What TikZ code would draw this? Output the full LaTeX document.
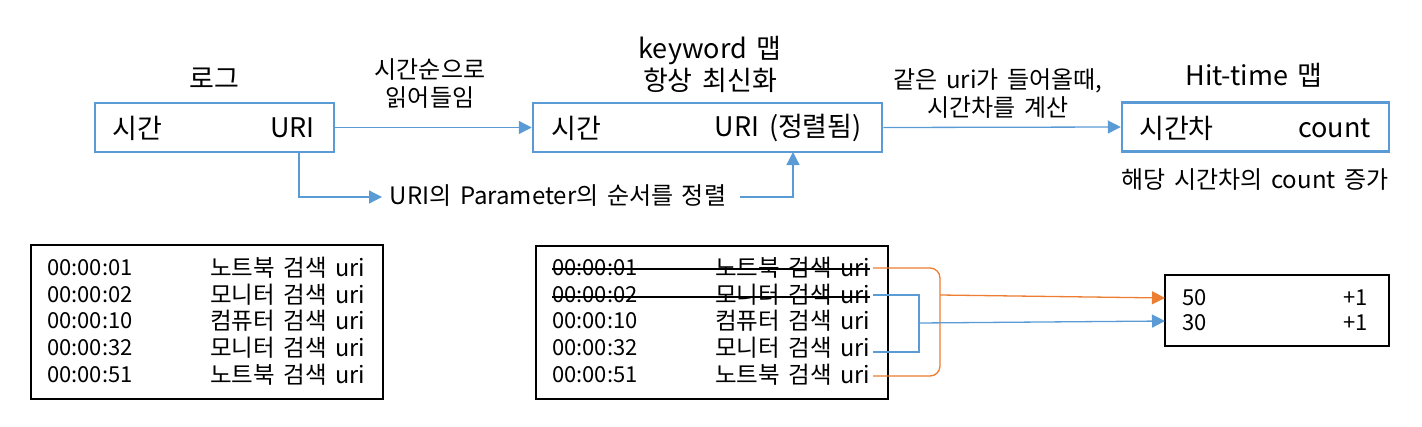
\documentclass[tikz,border=0pt]{standalone}
\usepackage{fontspec}
\setmainfont{Noto Sans CJK KR}[WordSpace=1.6]
\usetikzlibrary{arrows.meta,calc}
\definecolor{bl}{RGB}{91,155,213}
\definecolor{orn}{RGB}{237,125,49}
\tikzset{
  bluebox/.style={draw=bl,line width=2.5pt,inner sep=0pt},
  blackbox/.style={draw=black,line width=2.5pt,inner sep=0pt},
  big/.style={font=\fontsize{27}{32}\selectfont,inner sep=0pt,align=center},
  mid/.style={font=\fontsize{24}{28}\selectfont,inner sep=0pt,align=center},
  tab/.style={font=\fontsize{22}{26}\selectfont,inner sep=0pt},
  tabk/.style={font=\fontsize{23.5}{26}\selectfont,inner sep=0pt},
  bconn/.style={draw=bl,line width=1.3pt},
  oconn/.style={draw=orn,line width=1.3pt},
  tip/.style={-{Triangle[length=13pt,width=13pt]}},
  strike/.style={draw=black,line width=1.3pt}
}
\begin{document}
\begin{tikzpicture}[x=1pt,y=-1pt]
\useasboundingbox (0,0) rectangle (1422,426);
% top boxes
\node[bluebox,minimum width=239pt,minimum height=49pt] (box1) at (214.5,127.5) {};
\node[bluebox,minimum width=349pt,minimum height=49pt] (box2) at (707.5,127.5) {};
\node[bluebox,minimum width=267pt,minimum height=49pt] (box3) at (1255.5,127) {};
\node[big,anchor=west] (b1l) at (112,128) {시간};
\node[big,anchor=east] (b1r) at (315,128) {URI};
\node[big,anchor=west] (b2l) at (551,128) {시간};
\node[big,anchor=east] (b2r) at (862,128) {URI (정렬됨)};
\node[big,anchor=west] (b3l) at (1139,128) {시간차};
\node[big,anchor=east] (b3r) at (1371,128) {count};
% labels
\node[big] (lab1) at (214,78) {로그};
\node[big] (lab2) at (710,64) {keyword 맵\\항상 최신화};
\node[big] (lab3) at (1254,75) {Hit-time 맵};
\node[mid] (lab4) at (430,84) {시간순으로\\읽어들임};
\node[mid] (lab5) at (998,94) {같은 uri가 들어올때,\\시간차를 계산};
\node[mid] (lab6) at (1255,180) {해당 시간차의 count 증가};
\node[mid] (lab7) at (558,196) {URI의 Parameter의 순서를 정렬};
% top connectors
\draw[bconn,tip] (box1.east) -- (box2.west);
\draw[bconn,tip] (box2.east) -- (box3.west);
\coordinate (d1) at (299,152);
\coordinate (p1) at (382,197);
\coordinate (p2) at (740,197);
\coordinate (u1) at (793,152);
\draw[bconn,tip] (d1) |- (p1);
\draw[bconn,tip] (p2) -| (u1);
% bottom left table
\node[blackbox,minimum width=352pt,minimum height=154pt] (tl) at (207,322) {};
\node[tab,anchor=west] (l1t) at (47,268) {00:00:01};
\node[tab,anchor=west] (l2t) at (47,295) {00:00:02};
\node[tab,anchor=west] (l3t) at (47,321) {00:00:10};
\node[tab,anchor=west] (l4t) at (47,348) {00:00:32};
\node[tab,anchor=west] (l5t) at (47,375) {00:00:51};
\node[tabk,anchor=west] (l1k) at (210,268) {노트북 검색 uri};
\node[tabk,anchor=west] (l2k) at (210,295) {모니터 검색 uri};
\node[tabk,anchor=west] (l3k) at (210,321) {컴퓨터 검색 uri};
\node[tabk,anchor=west] (l4k) at (210,348) {모니터 검색 uri};
\node[tabk,anchor=west] (l5k) at (210,375) {노트북 검색 uri};
% bottom middle table
\node[blackbox,minimum width=352pt,minimum height=153pt] (tm) at (712,322.5) {};
\node[tab,anchor=west] (m1t) at (552,268) {00:00:01};
\node[tab,anchor=west] (m2t) at (552,295) {00:00:02};
\node[tab,anchor=west] (m3t) at (552,321) {00:00:10};
\node[tab,anchor=west] (m4t) at (552,348) {00:00:32};
\node[tab,anchor=west] (m5t) at (552,375) {00:00:51};
\node[tabk,anchor=west] (m1k) at (715,268) {노트북 검색 uri};
\node[tabk,anchor=west] (m2k) at (715,295) {모니터 검색 uri};
\node[tabk,anchor=west] (m3k) at (715,321) {컴퓨터 검색 uri};
\node[tabk,anchor=west] (m4k) at (715,348) {모니터 검색 uri};
\node[tabk,anchor=west] (m5k) at (715,375) {노트북 검색 uri};
\draw[strike] ([yshift=-1pt]m1t.west) -- ([yshift=-1pt]m1t.west -| m1k.east);
\draw[strike] ([yshift=-2pt]m2t.west) -- ([yshift=-2pt]m2t.west -| m2k.east);
% right table
\node[blackbox,minimum width=224pt,minimum height=71pt] (tr) at (1277,310.5) {};
\node[tab,anchor=west] (r1a) at (1182,298) {50};
\node[tab,anchor=east] (r1b) at (1368,298) {+1};
\node[tab,anchor=west] (r2a) at (1182,323) {30};
\node[tab,anchor=east] (r2b) at (1368,323) {+1};
% brackets
\coordinate (o1) at (873,268);
\coordinate (o5) at (873,376);
\coordinate (om) at (940,295);
\coordinate (ot) at (1165,298);
\draw[oconn,rounded corners=10pt] (o1) -| (940,320) |- (o5);
\draw[oconn,tip] (om) -- (ot);
\coordinate (c2) at (873,295);
\coordinate (c4) at (873,352);
\coordinate (cm) at (919,323);
\coordinate (ct) at (1165,321);
\draw[bconn] (c2) -| (cm) |- (c4);
\draw[bconn,tip] (cm) -- (ct);
\end{tikzpicture}
\end{document}
